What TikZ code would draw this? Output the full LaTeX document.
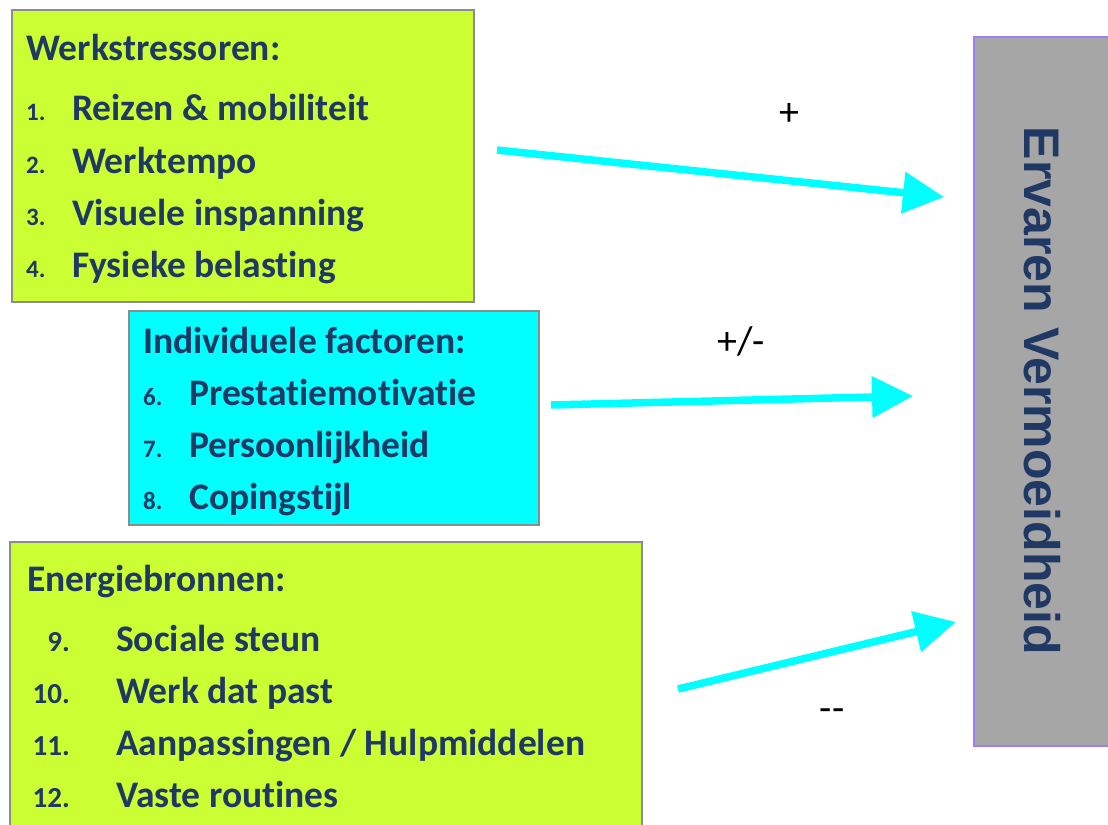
\documentclass[tikz,border=0pt]{standalone}
\usepackage{fontspec}
\setmainfont{Carlito}[Ligatures={NoCommon,NoContextual}]
\newfontfamily\arialfont{Liberation Sans}
\usetikzlibrary{arrows.meta}

\definecolor{navy}{HTML}{1F3864}
\definecolor{limefill}{HTML}{CCFF33}
\definecolor{aquafill}{HTML}{00FFFF}
\definecolor{edgegray}{HTML}{8C8C8C}
\definecolor{boxgray}{HTML}{A6A6A6}
\definecolor{lavender}{HTML}{A07CFF}

\tikzset{
  panel/.style={draw=edgegray,line width=2bp,anchor=north west,inner sep=0pt},
  head/.style={anchor=base west,inner sep=0pt,text=navy,
    font=\bfseries\fontsize{37.5bp}{37.5bp}\selectfont},
  num/.style={inner sep=0pt,text=navy,
    font=\bfseries\fontsize{25bp}{25bp}\selectfont},
  item/.style={anchor=base west,inner sep=0pt,text=navy,
    font=\bfseries\fontsize{37.5bp}{37.5bp}\selectfont},
  link/.style={draw=aquafill,line width=7.5bp,
    -{Triangle[length=41bp,width=40bp]}},
  sign/.style={inner sep=0pt,font=\fontsize{40bp}{40bp}\selectfont}
}

\begin{document}
\begin{tikzpicture}[x=1bp,y=-1bp]
\useasboundingbox (0,0) rectangle (1108,825);

% boxes
\node[panel,fill=limefill,minimum width=462bp,minimum height=292bp] (stress) at (11,9) {};
\node[panel,fill=aquafill,minimum width=410bp,minimum height=214bp] (indiv) at (128,310) {};
\node[panel,fill=limefill,minimum width=632bp,minimum height=320bp] (energy) at (9,541) {};
\node[panel,draw=lavender,fill=boxgray,minimum width=160bp,minimum height=709bp] (fatigue) at (973,36) {};

% werkstressoren
\node[head] (stresshead) at (26,60) {Werkstressoren:};
\foreach \n/\t/\y in {1/{Reizen \& mobiliteit}/120, 2/Werktempo/173,
                      3/{Visuele inspanning}/225, 4/{Fysieke belasting}/277} {
  \node[num,anchor=base west] (snum\n) at (26,\y) {\n.};
  \node[item] (sitem\n) at (72,\y) {\t};
}

% individuele factoren
\node[head] (indivhead) at (143,353) {Individuele factoren:};
\foreach \n/\t/\y in {6/Prestatiemotivatie/405, 7/Persoonlijkheid/457,
                      8/Copingstijl/509} {
  \node[num,anchor=base west] (inum\n) at (143,\y) {\n.};
  \node[item] (iitem\n) at (189,\y) {\t};
}

% energiebronnen
\node[head] (energyhead) at (27,591) {Energiebronnen:};
\foreach \n/\t/\y in {9/{Sociale steun}/651, 10/{Werk dat past}/703,
                      11/{Aanpassingen / Hulpmiddelen}/755, 12/{Vaste routines}/807} {
  \node[num,anchor=base east,font=\bfseries\fontsize{29bp}{29bp}\selectfont] (enum\n) at (70,\y) {\n.};
  \node[item] (eitem\n) at (116,\y) {\t};
}

% uitkomst
\node[rotate=-90,text=navy,font=\arialfont\bfseries\fontsize{50bp}{50bp}\selectfont,
  inner sep=0pt] (fatiguetext) at (1042,391) {Ervaren Vermoeidheid};

% pijlen
\coordinate (from1) at (497,150);
\coordinate (to1) at (944,197);
\coordinate (from2) at (551,405);
\coordinate (to2) at (913,396);
\coordinate (from3) at (678,689);
\coordinate (to3) at (956,622);
\draw[link] (from1) -- (to1);
\draw[link] (from2) -- (to2);
\draw[link] (from3) -- (to3);

\node[sign] (plus) at (789,115) {+};
\node[sign] (plusmin) at (741,341) {+/-};
\node[sign] (minmin) at (832,715) {-{}-};
\end{tikzpicture}
\end{document}
